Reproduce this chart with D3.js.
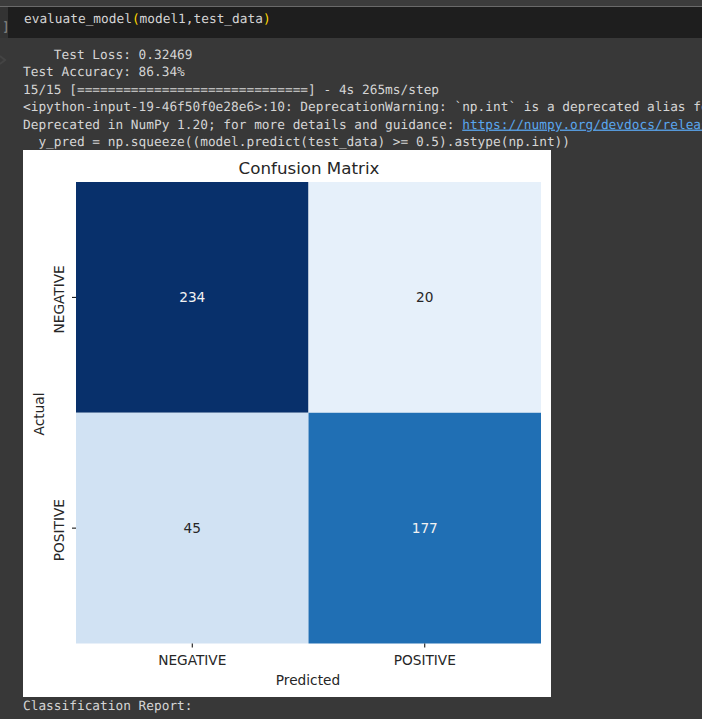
<!DOCTYPE html>
<html>
<head>
<meta charset="utf-8">
<script src="https://cdn.jsdelivr.net/npm/d3@7"></script>
<style>
html, body { margin: 0; padding: 0; background: #383838; overflow: hidden; }
svg { display: block; }
.out { font-family: "DejaVu Sans Mono", monospace; font-size: 12.8px; fill: #d5d5d5; white-space: pre; text-rendering: geometricPrecision; }
.chart text { font-family: "DejaVu Sans", sans-serif; fill: #262626; }
</style>
</head>
<body>
<svg id="page" width="702" height="719"></svg>
<script>
// data
var predicted = ["NEGATIVE", "POSITIVE"];
var actual = ["NEGATIVE", "POSITIVE"];
var counts = [[234, 20], [45, 177]];
var blues = ["#f7fbff", "#deebf7", "#c6dbef", "#9ecae1", "#6baed6", "#4292c6", "#2171b5", "#08519c", "#08306b"];

var outputLines = [
  "    Test Loss: 0.32469",
  "Test Accuracy: 86.34%",
  "15/15 [==============================] - 4s 265ms/step",
  "<ipython-input-19-46f50f0e28e6>:10: DeprecationWarning: `np.int` is a deprecated alias for",
  "Deprecated in NumPy 1.20; for more details and guidance: ",
  "  y_pred = np.squeeze((model.predict(test_data) >= 0.5).astype(np.int))"
];
var linkText = "https://numpy.org/devdocs/release";

var svg = d3.select("#page");

// notebook bits
svg.append("rect").attr("x", 0).attr("y", 0).attr("width", 702).attr("height", 6).attr("fill", "#3c3c3c");
svg.append("rect").attr("x", 0).attr("y", 6).attr("width", 702).attr("height", 1).attr("fill", "#6a6a6a");
svg.append("rect").attr("x", 0).attr("y", 7).attr("width", 702).attr("height", 31).attr("fill", "#1e1e1e");
svg.append("rect").attr("x", 0).attr("y", 7).attr("width", 8).attr("height", 31).attr("fill", "#333333");
svg.append("text").attr("class", "out").attr("x", 2).attr("y", 31).style("fill", "#8a8a8a").text("]");
// faint output icon in the gutter
svg.append("path").attr("d", "M0,56 L5,60 L0,64").attr("fill", "none").attr("stroke", "#444444").attr("stroke-width", 2);

var cell = svg.append("text").attr("class", "out").attr("x", 24).attr("y", 23).style("fill", "#d4d4d4");
cell.append("tspan").text("evaluate_model");
cell.append("tspan").style("fill", "#ffd700").text("(");
cell.append("tspan").text("model1,test_data");
cell.append("tspan").style("fill", "#ffd700").text(")");

svg.selectAll("text.line").data(outputLines).join("text")
  .attr("class", "out line")
  .attr("x", 23)
  .attr("y", function (d, i) { return 59 + i * 17.4; })
  .attr("xml:space", "preserve")
  .text(function (d) { return d; });

svg.append("text").attr("class", "out")
  .attr("x", 23 + outputLines[4].length * 7.706).attr("y", 59 + 4 * 17.4)
  .style("fill", "#5aa6ee").style("text-decoration", "underline")
  .text(linkText);

svg.append("text").attr("class", "out").attr("x", 23).attr("y", 710).text("Classification Report:");

// figure
var chart = svg.append("g").attr("class", "chart");
chart.append("rect").attr("x", 23).attr("y", 150).attr("width", 528).attr("height", 547).attr("fill", "#fff");

var x = d3.scaleBand().domain(predicted).range([76, 541]);
var y = d3.scaleBand().domain(actual).range([182, 643.5]);
var color = d3.scaleLinear()
  .domain(blues.map(function (d, i) { return i / (blues.length - 1) * 234; }))
  .range(blues);

var cells = [];
actual.forEach(function (a, i) {
  predicted.forEach(function (p, j) {
    cells.push({ a: a, p: p, v: counts[i][j] });
  });
});

chart.selectAll("rect.cell").data(cells).join("rect")
  .attr("class", "cell")
  .attr("x", function (d) { return x(d.p); })
  .attr("y", function (d) { return y(d.a); })
  .attr("width", x.bandwidth())
  .attr("height", y.bandwidth())
  .attr("fill", function (d) { return color(d.v); });

chart.selectAll("text.val").data(cells).join("text")
  .attr("class", "val")
  .attr("x", function (d) { return x(d.p) + x.bandwidth() / 2; })
  .attr("y", function (d) { return y(d.a) + y.bandwidth() / 2; })
  .attr("dy", "0.36em")
  .attr("text-anchor", "middle")
  .style("font-size", "13.7px")
  .style("fill", function (d) { return d.v > 117 ? "#f2f2f2" : "#262626"; })
  .text(function (d) { return d.v; });

var xAxis = chart.append("g").attr("transform", "translate(0,643.5)")
  .call(d3.axisBottom(x).tickSize(4).tickPadding(8));
var yAxis = chart.append("g").attr("transform", "translate(76,0)")
  .call(d3.axisLeft(y).tickSize(4).tickPadding(8));
xAxis.select(".domain").remove();
yAxis.select(".domain").remove();
xAxis.selectAll("text").style("font-size", "13.7px");
yAxis.selectAll("text")
  .style("font-size", "13.7px")
  .attr("transform", function () {
    return "rotate(-90," + d3.select(this).attr("x") + ",0)";
  })
  .attr("text-anchor", "middle")
  .attr("dx", "-2")
  .attr("dy", "0");

chart.append("text").attr("x", 309).attr("y", 174).attr("text-anchor", "middle")
  .style("font-size", "16.7px").text("Confusion Matrix");
chart.append("text").attr("x", 308).attr("y", 685).attr("text-anchor", "middle")
  .style("font-size", "13.7px").text("Predicted");
chart.append("text").attr("transform", "translate(43.5,414) rotate(-90)").attr("text-anchor", "middle")
  .style("font-size", "13.7px").text("Actual");
</script>
</body>
</html>
